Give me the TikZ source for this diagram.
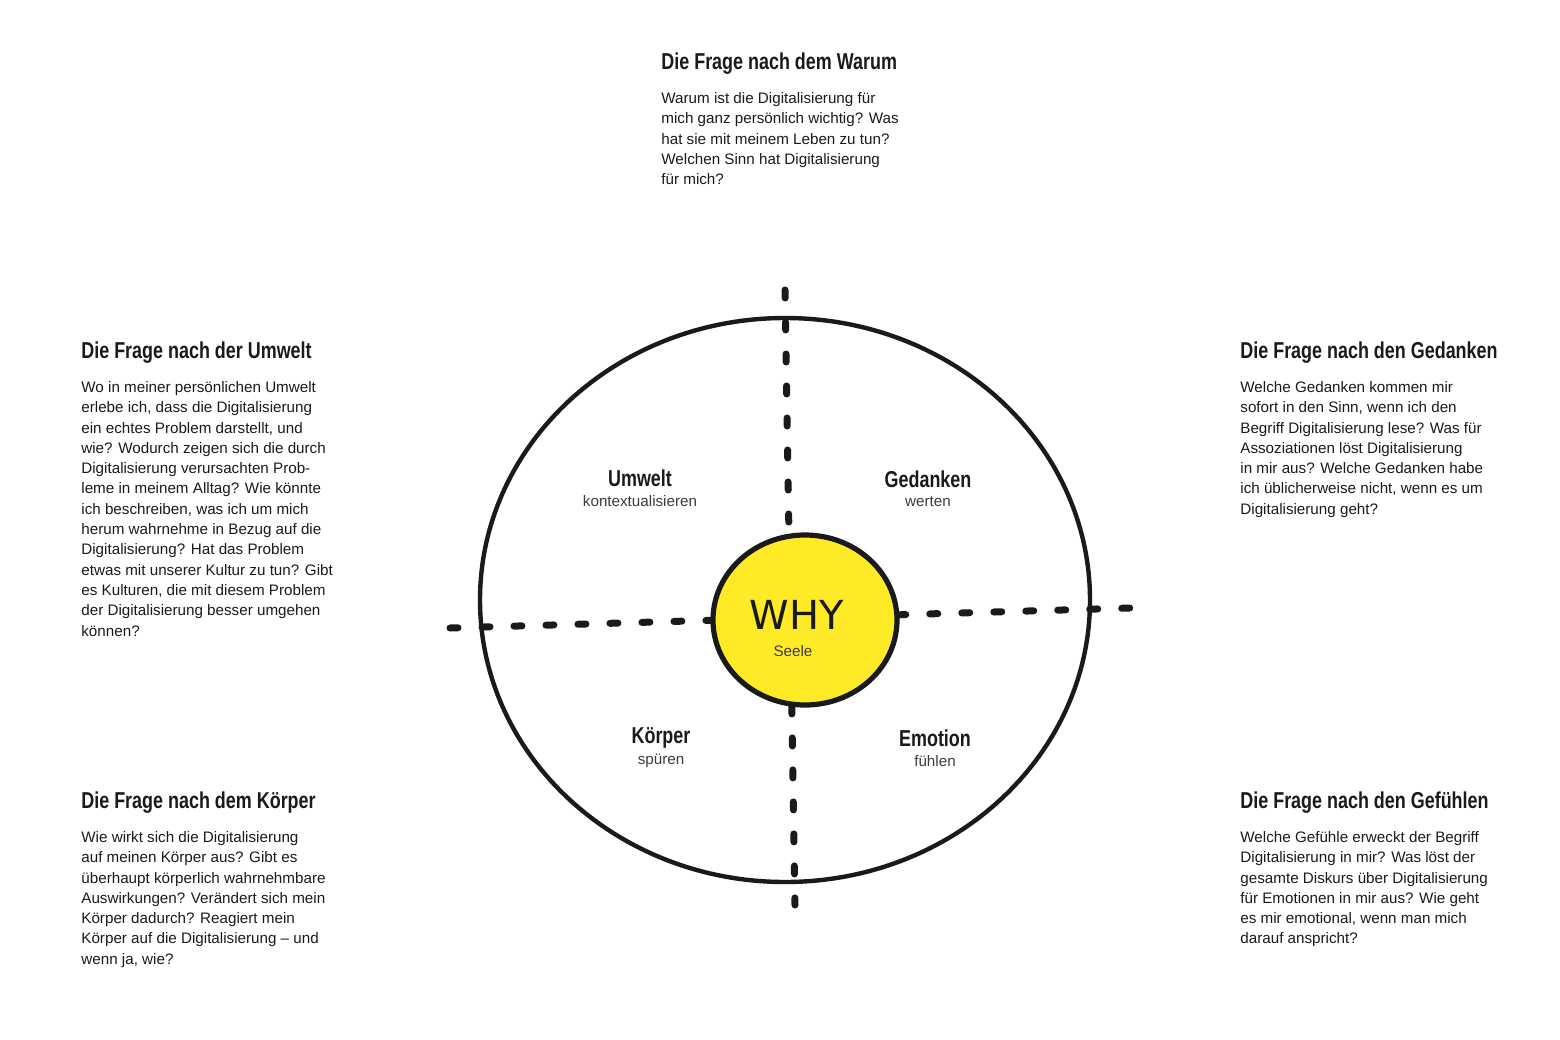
\documentclass[tikz,border=0pt]{standalone}
\usepackage{fontspec}
\setmainfont{Liberation Sans}
\newfontfamily\headfont[FakeStretch=0.78]{Liberation Sans Bold}
\newfontfamily\handfont{DejaVu Sans}
\definecolor{whyyellow}{RGB}{255,234,40}
\definecolor{ink}{RGB}{26,26,26}
\tikzset{
	frage/.style={anchor=north west,inner sep=0pt,font=\headfont\fontsize{11.5}{13}\selectfont,text=ink},
	fragetext/.style={anchor=north west,inner sep=0pt,align=left,font=\fontsize{7.6}{10.15}\selectfont,text=ink},
	quadrant/.style={inner sep=0pt,font=\headfont\fontsize{11.5}{13}\selectfont,text=ink},
	verb/.style={inner sep=0pt,font=\fontsize{7.6}{9}\selectfont,text=ink!85},
	achse/.style={ink,line width=3.5pt,line cap=round,dash pattern=on 4pt off 12pt}
}
\begin{document}
\begin{tikzpicture}[x=0.5pt,y=-0.5pt]
	\useasboundingbox (0,0) rectangle (1560,1040);
	% Kreis und Achsen
	\draw [ink,line width=2.2pt] (785,600) ellipse [x radius=305,y radius=282];
	\draw [achse] (785,290) -- (795,905);
	\draw [achse] (450,628) -- (1130,608);
	\filldraw [fill=whyyellow,draw=ink,line width=2.6pt] (805,620) ellipse [x radius=92,y radius=85];
	\node (why) at (797,615) [inner sep=0pt,font=\handfont\fontsize{20}{20}\selectfont,text=ink] {WHY};
	\node (seele) at (793,651) [verb] {Seele};
	% Quadranten
	\node (umwelt) at (640,478) [quadrant] {Umwelt};
	\node (umweltv) at (640,501) [verb] {kontextualisieren};
	\node (gedanken) at (928,479) [quadrant] {Gedanken};
	\node (gedankenv) at (928,502) [verb] {werten};
	\node (koerper) at (661,738) [quadrant] {Körper};
	\node (koerperv) at (661,761) [verb] {spüren};
	\node (emotion) at (935,738) [quadrant] {Emotion};
	\node (emotionv) at (935,761) [verb] {fühlen};
	% Fragen
	\node (warum) at (661,52) [frage] {Die Frage nach dem Warum};
	\node (warumt) at (661,92) [fragetext] {Warum ist die Digitalisierung für\\mich ganz persönlich wichtig? Was\\hat sie mit meinem Leben zu tun?\\Welchen Sinn hat Digitalisierung\\für mich?};
	\node (umweltf) at (81,341) [frage] {Die Frage nach der Umwelt};
	\node (umweltt) at (81,381) [fragetext] {Wo in meiner persönlichen Umwelt\\erlebe ich, dass die Digitalisierung\\ein echtes Problem darstellt, und\\wie? Wodurch zeigen sich die durch\\Digitalisierung verursachten Prob-\\leme in meinem Alltag? Wie könnte\\ich beschreiben, was ich um mich\\herum wahrnehme in Bezug auf die\\Digitalisierung? Hat das Problem\\etwas mit unserer Kultur zu tun? Gibt\\es Kulturen, die mit diesem Problem\\der Digitalisierung besser umgehen\\können?};
	\node (gedankenf) at (1240,341) [frage] {Die Frage nach den Gedanken};
	\node (gedankent) at (1240,381) [fragetext] {Welche Gedanken kommen mir\\sofort in den Sinn, wenn ich den\\Begriff Digitalisierung lese? Was für\\Assoziationen löst Digitalisierung\\in mir aus? Welche Gedanken habe\\ich üblicherweise nicht, wenn es um\\Digitalisierung geht?};
	\node (koerperf) at (81,791) [frage] {Die Frage nach dem Körper};
	\node (koerpert) at (81,831) [fragetext] {Wie wirkt sich die Digitalisierung\\auf meinen Körper aus? Gibt es\\überhaupt körperlich wahrnehmbare\\Auswirkungen? Verändert sich mein\\Körper dadurch? Reagiert mein\\Körper auf die Digitalisierung – und\\wenn ja, wie?};
	\node (gefuehlef) at (1240,791) [frage] {Die Frage nach den Gefühlen};
	\node (gefuehlet) at (1240,831) [fragetext] {Welche Gefühle erweckt der Begriff\\Digitalisierung in mir? Was löst der\\gesamte Diskurs über Digitalisierung\\für Emotionen in mir aus? Wie geht\\es mir emotional, wenn man mich\\darauf anspricht?};
\end{tikzpicture}
\end{document}
